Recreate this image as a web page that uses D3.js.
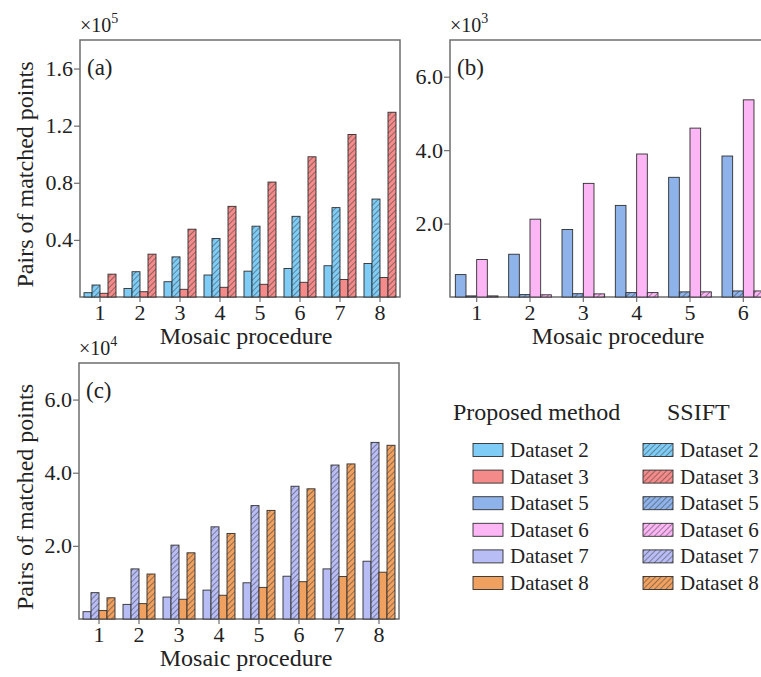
<!DOCTYPE html>
<html>
<head>
<meta charset="utf-8">
<script src="https://cdn.jsdelivr.net/npm/d3@7"></script>
<style>
  #container svg, #container svg text, #container svg tspan {
    font-family: 'Liberation Serif', Tinos !important;
  }
</style>
</head>
<body style="margin:0; background:#fff">
<div id="container"></div>
<script>
// mosaic procedure steps
const procedures = ["1", "2", "3", "4", "5", "6", "7", "8"];

// panel (a): datasets 2 and 3
const aProposedD2 = [3000, 6000, 10700, 15400, 18100, 20000, 21900, 23500];
const aSsiftD2    = [8400, 17700, 28100, 41000, 49600, 56500, 62600, 68600];
const aProposedD3 = [2600, 3700, 5400, 6800, 8900, 10300, 12300, 13700];
const aSsiftD3    = [16000, 30000, 47500, 63500, 80500, 98200, 113800, 129400];
const aTicks = [40000, 80000, 120000, 160000];

// panel (b): datasets 5 and 6 (only steps 1-6 are visible)
const bProposedD5 = [610, 1165, 1840, 2495, 3260, 3840];
const bSsiftD5    = [30, 65, 90, 120, 140, 165];
const bProposedD6 = [1020, 2120, 3095, 3895, 4600, 5370];
const bSsiftD6    = [30, 60, 85, 120, 140, 165];
const bTicks = [2000, 4000, 6000];

// panel (c): datasets 7 and 8
const cProposedD7 = [2000, 4000, 6000, 7900, 9900, 11700, 13700, 15800];
const cSsiftD7    = [7200, 13700, 20200, 25200, 31000, 36300, 42100, 48300];
const cProposedD8 = [2300, 4200, 5400, 6500, 8650, 10200, 11600, 12800];
const cSsiftD8    = [5800, 12300, 18100, 23400, 29700, 35600, 42400, 47500];
const cTicks = [20000, 40000, 60000];

const datasetNames = ["Dataset 2", "Dataset 3", "Dataset 5", "Dataset 6", "Dataset 7", "Dataset 8"];
const datasetColors = ["#7fcdf7", "#f58a8a", "#8eb2ea", "#fcb5f5", "#b9bdf6", "#f0a15f"];

const frameColor = "#6e6e6e";
const textColor = "#222";
const font = "'Liberation Serif', Tinos";
const W = 761, H = 677;

let svg = d3.select("#container")
  .append("svg")
    .attr("width", W)
    .attr("height", H)
    .attr("font-family", "Liberation Serif");

let defs = svg.append("defs");

// one hatch pattern per dataset colour
datasetColors.forEach(function(c, i){
  let p = defs.append("pattern")
      .attr("id", "hatch" + i)
      .attr("patternUnits", "userSpaceOnUse")
      .attr("width", 4)
      .attr("height", 4)
      .attr("patternTransform", "rotate(45)");
  p.append("rect")
      .attr("width", 4)
      .attr("height", 4)
      .attr("fill", c);
  p.append("line")
      .attr("x1", 0.5).attr("y1", 0)
      .attr("x2", 0.5).attr("y2", 4)
      .attr("stroke", "#333")
      .attr("stroke-opacity", 0.6)
      .attr("stroke-width", 0.8);
});

function fillFor(colorIndex, hatched){
  if(hatched){
    return "url(#hatch" + colorIndex + ")";
  } else {
    return datasetColors[colorIndex];
  }
}

function drawPanel(opt){
  let g = svg.append("g");

  let x = d3.scaleBand()
    .domain(procedures)
    .range([opt.left, opt.right])
    .padding(0);
  let bw = x.bandwidth();

  let inner = d3.scaleBand()
    .domain(d3.range(opt.series.length))
    .range([bw * 0.1, bw * 0.9])
    .padding(0);

  let y = d3.scaleLinear()
    .domain([0, opt.max])
    .range([opt.bottom, opt.top]);

  // frame
  g.append("rect")
    .attr("x", opt.left)
    .attr("y", opt.top)
    .attr("width", opt.right - opt.left)
    .attr("height", opt.bottom - opt.top)
    .attr("fill", "none")
    .attr("stroke", frameColor)
    .attr("stroke-width", 1.5);

  // bars
  opt.series.forEach(function(s, si){
    g.append("g").selectAll("rect")
      .data(s.values)
      .enter()
      .append("rect")
        .attr("x", function(d, i){ return x(procedures[i]) + inner(si); })
        .attr("y", function(d){ return y(d); })
        .attr("width", inner.bandwidth())
        .attr("height", function(d){ return y(0) - y(d); })
        .attr("fill", fillFor(s.color, s.hatched))
        .attr("stroke", "#2e2e2e")
        .attr("stroke-width", 0.9);
  });

  // y axis
  let yAxis = g.append("g")
    .attr("transform", "translate(" + opt.left + ",0)")
    .call(d3.axisLeft(y)
      .tickValues(opt.ticks)
      .tickSize(6)
      .tickPadding(1)
      .tickFormat(function(d){ return (d / opt.unit).toFixed(1); }));
  yAxis.attr("font-family", "Liberation Serif").attr("font-size", 22);
  yAxis.select(".domain").remove();
  yAxis.selectAll("line").attr("stroke", frameColor).attr("stroke-width", 1.2);

  // x axis, only the steps that fit inside the picture
  let visible = procedures.filter(function(p){ return x(p) + bw / 2 < W - 8; });
  let xAxis = g.append("g")
    .attr("transform", "translate(0," + opt.bottom + ")")
    .call(d3.axisBottom(x).tickValues(visible).tickSize(5).tickPadding(2));
  xAxis.attr("font-family", "Liberation Serif").attr("font-size", 22);
  xAxis.select(".domain").remove();
  xAxis.selectAll("line").attr("stroke", frameColor).attr("stroke-width", 1.2);

  // multiplier
  let mult = g.append("text")
    .attr("x", opt.left)
    .attr("y", opt.top - 8)
    .attr("font-size", 20);
  mult.append("tspan").text("\u00d710");
  mult.append("tspan")
    .attr("font-size", 14)
    .attr("dy", -9)
    .text(opt.exp);

  // panel letter
  g.append("text")
    .attr("x", opt.left + 7)
    .attr("y", opt.top + 35)
    .attr("font-size", 23)
    .text(opt.letter);

  // x title
  g.append("text")
    .attr("x", opt.xTitleX)
    .attr("y", opt.bottom + 47)
    .attr("text-anchor", "middle")
    .attr("font-size", 24)
    .text("Mosaic procedure");

  if(opt.yTitle){
    g.append("text")
      .attr("transform", "translate(33," + ((opt.top + opt.bottom) / 2 + 6) + ") rotate(-90)")
      .attr("text-anchor", "middle")
      .attr("font-size", 24)
      .text("Pairs of matched points");
  }
}

drawPanel({
  left: 80, right: 400, top: 40, bottom: 297,
  max: 180000, unit: 100000, exp: "5", letter: "(a)",
  ticks: aTicks, xTitleX: 246, yTitle: true,
  series: [
    {values: aProposedD2, color: 0, hatched: false},
    {values: aSsiftD2, color: 0, hatched: true},
    {values: aProposedD3, color: 1, hatched: false},
    {values: aSsiftD3, color: 1, hatched: true}
  ]
});

drawPanel({
  left: 450, right: 450 + 8 * 53.33, top: 40, bottom: 297,
  max: 7000, unit: 1000, exp: "3", letter: "(b)",
  ticks: bTicks, xTitleX: 618, yTitle: false,
  series: [
    {values: bProposedD5, color: 2, hatched: false},
    {values: bSsiftD5, color: 2, hatched: true},
    {values: bProposedD6, color: 3, hatched: false},
    {values: bSsiftD6, color: 3, hatched: true}
  ]
});

drawPanel({
  left: 79, right: 399, top: 363, bottom: 619,
  max: 70000, unit: 10000, exp: "4", letter: "(c)",
  ticks: cTicks, xTitleX: 246, yTitle: true,
  series: [
    {values: cProposedD7, color: 4, hatched: false},
    {values: cSsiftD7, color: 4, hatched: true},
    {values: cProposedD8, color: 5, hatched: false},
    {values: cSsiftD8, color: 5, hatched: true}
  ]
});

// legend
let legend = svg.append("g");
legend.append("text")
  .attr("x", 453).attr("y", 420)
  .attr("font-size", 24)
  .text("Proposed method");
legend.append("text")
  .attr("x", 667).attr("y", 420)
  .attr("font-size", 24)
  .text("SSIFT");

let rowY = d3.scalePoint()
  .domain(datasetNames)
  .range([450, 583]);

[false, true].forEach(function(hatched, col){
  let sx = col == 0 ? 473 : 643;
  let rows = legend.append("g").selectAll("g")
    .data(datasetNames)
    .enter()
    .append("g")
      .attr("transform", function(d){ return "translate(" + sx + "," + rowY(d) + ")"; });
  rows.append("rect")
    .attr("x", 0).attr("y", -6.5)
    .attr("width", 30).attr("height", 13)
    .attr("fill", function(d, i){ return fillFor(i, hatched); })
    .attr("stroke", "#2e2e2e")
    .attr("stroke-width", 0.9);
  rows.append("text")
    .attr("x", 37).attr("y", 7)
    .attr("font-size", 21)
    .text(function(d){ return d; });
});

// every text in the serif face and the same dark colour
svg.selectAll("text")
  .attr("font-family", "Liberation Serif")
  .style("font-family", font)
  .attr("fill", textColor);
</script>
</body>
</html>
